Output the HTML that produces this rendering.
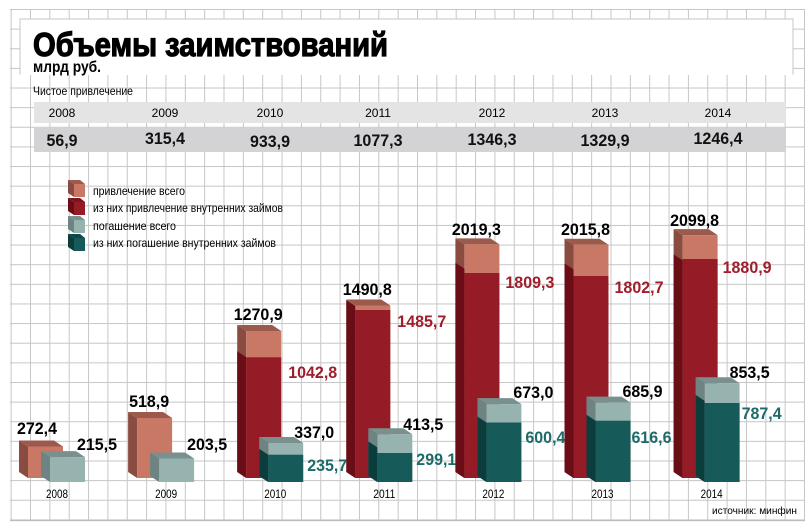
<!DOCTYPE html>
<html><head><meta charset="utf-8"><style>
html,body{margin:0;padding:0;background:#fff;}
svg{display:block;}
text{font-family:"Liberation Sans","DejaVu Sans",sans-serif;}
</style></head><body>
<svg width="810" height="528" viewBox="0 0 810 528" xmlns="http://www.w3.org/2000/svg">
<defs>
<pattern id="gv" x="10.65" y="0" width="19.35" height="528" patternUnits="userSpaceOnUse"><rect x="0" y="0" width="1" height="528" fill="#c6c6c6"/></pattern>
<pattern id="gh" x="0" y="9" width="810" height="19.63" patternUnits="userSpaceOnUse"><rect x="0" y="0" width="810" height="1" fill="#c6c6c6"/></pattern>
</defs>
<rect x="10" y="9" width="795" height="512" fill="url(#gv)"/>
<rect x="10" y="9" width="795" height="512" fill="url(#gh)"/>
<rect x="10" y="520" width="795" height="1.2" fill="#bdbdbd"/>
<!-- title box -->
<rect x="20" y="19" width="773" height="55" fill="#fff" stroke="#c6c6c6" stroke-width="1"/>
<rect x="20.5" y="73" width="772" height="2" fill="#fff"/>
<text x="33" y="56" font-size="33" font-weight="bold" stroke="#000" stroke-width="1.2" textLength="355" lengthAdjust="spacingAndGlyphs">Объемы заимствований</text>
<text x="33" y="72" font-size="16" font-weight="bold" textLength="68" lengthAdjust="spacingAndGlyphs">млрд руб.</text>
<text x="33" y="95" font-size="12" textLength="100" lengthAdjust="spacingAndGlyphs">Чистое привлечение</text>
<!-- table -->
<rect x="34" y="102" width="752" height="21" fill="#e4e4e4"/>
<rect x="34" y="128" width="752" height="24" fill="#d3d3d5"/>
<g font-size="12" text-anchor="middle">
<text x="62" y="117">2008</text><text x="165" y="117">2009</text><text x="270" y="117">2010</text><text x="378" y="117">2011</text><text x="492" y="117">2012</text><text x="605" y="117">2013</text><text x="718" y="117">2014</text>
</g>
<g font-size="17" font-weight="bold" text-anchor="middle" fill="#111">
<text x="62" y="146" textLength="31" lengthAdjust="spacingAndGlyphs">56,9</text>
<text x="165" y="144" textLength="40" lengthAdjust="spacingAndGlyphs">315,4</text>
<text x="270" y="147" textLength="40" lengthAdjust="spacingAndGlyphs">933,9</text>
<text x="378" y="146" textLength="49" lengthAdjust="spacingAndGlyphs">1077,3</text>
<text x="492" y="145" textLength="49" lengthAdjust="spacingAndGlyphs">1346,3</text>
<text x="605" y="146" textLength="49" lengthAdjust="spacingAndGlyphs">1329,9</text>
<text x="718" y="144" textLength="49" lengthAdjust="spacingAndGlyphs">1246,4</text>
</g>
<!-- legend -->
<g>
<polygon points="68,180 74,184 74,197 68,193" fill="#8a4b40"/><rect x="74" y="184" width="11" height="13" fill="#c97866"/><polygon points="68,180 80,180 85,184 74,184" fill="#9b5a4c"/>
<polygon points="68,198 74,202 74,215 68,211" fill="#6b0d16"/><rect x="74" y="202" width="11" height="13" fill="#951c27"/><polygon points="68,198 80,198 85,202 74,202" fill="#7a1520"/>
<polygon points="68,216 74,220 74,233 68,229" fill="#6d8482"/><rect x="74" y="220" width="11" height="13" fill="#97b3b0"/><polygon points="68,216 80,216 85,220 74,220" fill="#7a908e"/>
<polygon points="68,234 74,238 74,251 68,247" fill="#0b3d3d"/><rect x="74" y="238" width="11" height="13" fill="#165a5a"/><polygon points="68,234 80,234 85,238 74,238" fill="#0f4747"/>
</g>
<g font-size="12">
<text x="93" y="195" textLength="92" lengthAdjust="spacingAndGlyphs">привлечение всего</text>
<text x="93" y="212" textLength="190" lengthAdjust="spacingAndGlyphs">из них привлечение внутренних займов</text>
<text x="93" y="230" textLength="83" lengthAdjust="spacingAndGlyphs">погашение всего</text>
<text x="93" y="247" textLength="183" lengthAdjust="spacingAndGlyphs">из них погашение внутренних займов</text>
</g>

<!-- 2008 -->
<g transform="translate(28,0)">
<polygon points="-9,440.5 0,446.5 0,478 -9,472" fill="#8a4b40"/><polygon points="-9,440.5 26,440.5 35,446.5 0,446.5" fill="#9b5a4c"/><rect x="0" y="446.5" width="35" height="31.5" fill="#c97866"/>
<polygon points="13,451.1 22,457.1 22,482 13,476" fill="#6d8482"/><polygon points="13,451.1 48,451.1 57,457.1 22,457.1" fill="#7a908e"/><rect x="22" y="457.1" width="35" height="24.9" fill="#97b3b0"/>
<text x="9" y="434" font-size="17" font-weight="bold" text-anchor="middle" textLength="40" lengthAdjust="spacingAndGlyphs">272,4</text>
<text x="49" y="450" font-size="17" font-weight="bold" textLength="40" lengthAdjust="spacingAndGlyphs">215,5</text>
<text x="29" y="498" font-size="12" text-anchor="middle" textLength="22" lengthAdjust="spacingAndGlyphs">2008</text>
</g>
<!-- 2009 -->
<g transform="translate(137.1,0)">
<polygon points="-9,412 0,418 0,478 -9,472" fill="#8a4b40"/><polygon points="-9,412 26,412 35,418 0,418" fill="#9b5a4c"/><rect x="0" y="418" width="35" height="60" fill="#c97866"/>
<polygon points="13,452.5 22,458.5 22,482 13,476" fill="#6d8482"/><polygon points="13,452.5 48,452.5 57,458.5 22,458.5" fill="#7a908e"/><rect x="22" y="458.5" width="35" height="23.5" fill="#97b3b0"/>
<text x="12" y="407" font-size="17" font-weight="bold" text-anchor="middle" textLength="40" lengthAdjust="spacingAndGlyphs">518,9</text>
<text x="50" y="450" font-size="17" font-weight="bold" textLength="40" lengthAdjust="spacingAndGlyphs">203,5</text>
<text x="29" y="498" font-size="12" text-anchor="middle" textLength="22" lengthAdjust="spacingAndGlyphs">2009</text>
</g>
<!-- 2010 -->
<g transform="translate(246.2,0)">
<polygon points="-9,325 0,331 0,478 -9,472" fill="#8a4b40"/><polygon points="-9,325 26,325 35,331 0,331" fill="#9b5a4c"/><rect x="0" y="331" width="35" height="147" fill="#c97866"/>
<polygon points="-9,351.3 0,357.3 0,478 -9,472" fill="#6b0d16"/><rect x="0" y="357.3" width="35" height="120.7" fill="#951c27"/>
<polygon points="13,437 22,443 22,482 13,476" fill="#6d8482"/><polygon points="13,437 48,437 57,443 22,443" fill="#7a908e"/><rect x="22" y="443" width="35" height="39" fill="#97b3b0"/>
<polygon points="13,448.7 22,454.7 22,482 13,476" fill="#0b3d3d"/><rect x="22" y="454.7" width="35" height="27.3" fill="#165a5a"/>
<text x="12" y="320" font-size="17" font-weight="bold" text-anchor="middle" textLength="49" lengthAdjust="spacingAndGlyphs">1270,9</text>
<text x="42" y="378" font-size="17" font-weight="bold" fill="#a01e2c" textLength="49" lengthAdjust="spacingAndGlyphs">1042,8</text>
<text x="48" y="438" font-size="17" font-weight="bold" textLength="40" lengthAdjust="spacingAndGlyphs">337,0</text>
<text x="61" y="471" font-size="17" font-weight="bold" fill="#1c6a6a" textLength="40" lengthAdjust="spacingAndGlyphs">235,7</text>
<text x="29" y="498" font-size="12" text-anchor="middle" textLength="22" lengthAdjust="spacingAndGlyphs">2010</text>
</g>
<!-- 2011 -->
<g transform="translate(355.3,0)">
<polygon points="-9,299.5 0,305.5 0,478 -9,472" fill="#8a4b40"/><polygon points="-9,299.5 26,299.5 35,305.5 0,305.5" fill="#9b5a4c"/><rect x="0" y="305.5" width="35" height="172.5" fill="#c97866"/>
<polygon points="-9,300.1 0,306.1 0,478 -9,472" fill="#6b0d16"/><rect x="0" y="310" width="35" height="168" fill="#951c27"/>
<polygon points="13,428.2 22,434.2 22,482 13,476" fill="#6d8482"/><polygon points="13,428.2 48,428.2 57,434.2 22,434.2" fill="#7a908e"/><rect x="22" y="434.2" width="35" height="47.8" fill="#97b3b0"/>
<polygon points="13,441.4 22,447.4 22,482 13,476" fill="#0b3d3d"/><rect x="22" y="453" width="35" height="29" fill="#165a5a"/>
<text x="12" y="295" font-size="17" font-weight="bold" text-anchor="middle" textLength="49" lengthAdjust="spacingAndGlyphs">1490,8</text>
<text x="42" y="327" font-size="17" font-weight="bold" fill="#a01e2c" textLength="49" lengthAdjust="spacingAndGlyphs">1485,7</text>
<text x="48" y="430" font-size="17" font-weight="bold" textLength="40" lengthAdjust="spacingAndGlyphs">413,5</text>
<text x="61" y="465" font-size="17" font-weight="bold" fill="#1c6a6a" textLength="40" lengthAdjust="spacingAndGlyphs">299,1</text>
<text x="29" y="498" font-size="12" text-anchor="middle" textLength="22" lengthAdjust="spacingAndGlyphs">2011</text>
</g>
<!-- 2012 -->
<g transform="translate(464.4,0)">
<polygon points="-9,238.4 0,244.4 0,478 -9,472" fill="#8a4b40"/><polygon points="-9,238.4 26,238.4 35,244.4 0,244.4" fill="#9b5a4c"/><rect x="0" y="244.4" width="35" height="233.6" fill="#c97866"/>
<polygon points="-9,262.7 0,268.7 0,478 -9,472" fill="#6b0d16"/><rect x="0" y="273" width="35" height="205" fill="#951c27"/>
<polygon points="13,398.1 22,404.1 22,482 13,476" fill="#6d8482"/><polygon points="13,398.1 48,398.1 57,404.1 22,404.1" fill="#7a908e"/><rect x="22" y="404.1" width="35" height="77.9" fill="#97b3b0"/>
<polygon points="13,416.5 22,422.5 22,482 13,476" fill="#0b3d3d"/><rect x="22" y="422.5" width="35" height="59.5" fill="#165a5a"/>
<text x="12" y="235" font-size="17" font-weight="bold" text-anchor="middle" textLength="49" lengthAdjust="spacingAndGlyphs">2019,3</text>
<text x="41" y="288" font-size="17" font-weight="bold" fill="#a01e2c" textLength="49" lengthAdjust="spacingAndGlyphs">1809,3</text>
<text x="49" y="398" font-size="17" font-weight="bold" textLength="40" lengthAdjust="spacingAndGlyphs">673,0</text>
<text x="61" y="443" font-size="17" font-weight="bold" fill="#1c6a6a" textLength="40" lengthAdjust="spacingAndGlyphs">600,4</text>
<text x="29" y="498" font-size="12" text-anchor="middle" textLength="22" lengthAdjust="spacingAndGlyphs">2012</text>
</g>
<!-- 2013 -->
<g transform="translate(573.5,0)">
<polygon points="-9,238.8 0,244.8 0,478 -9,472" fill="#8a4b40"/><polygon points="-9,238.8 26,238.8 35,244.8 0,244.8" fill="#9b5a4c"/><rect x="0" y="244.8" width="35" height="233.2" fill="#c97866"/>
<polygon points="-9,263.4 0,269.4 0,478 -9,472" fill="#6b0d16"/><rect x="0" y="276" width="35" height="202" fill="#951c27"/>
<polygon points="13,396.6 22,402.6 22,482 13,476" fill="#6d8482"/><polygon points="13,396.6 48,396.6 57,402.6 22,402.6" fill="#7a908e"/><rect x="22" y="402.6" width="35" height="79.4" fill="#97b3b0"/>
<polygon points="13,414.7 22,420.7 22,482 13,476" fill="#0b3d3d"/><rect x="22" y="420.7" width="35" height="61.3" fill="#165a5a"/>
<text x="12" y="235" font-size="17" font-weight="bold" text-anchor="middle" textLength="49" lengthAdjust="spacingAndGlyphs">2015,8</text>
<text x="41" y="293" font-size="17" font-weight="bold" fill="#a01e2c" textLength="49" lengthAdjust="spacingAndGlyphs">1802,7</text>
<text x="49" y="397" font-size="17" font-weight="bold" textLength="40" lengthAdjust="spacingAndGlyphs">685,9</text>
<text x="58" y="443" font-size="17" font-weight="bold" fill="#1c6a6a" textLength="40" lengthAdjust="spacingAndGlyphs">616,6</text>
<text x="29" y="498" font-size="12" text-anchor="middle" textLength="22" lengthAdjust="spacingAndGlyphs">2013</text>
</g>
<!-- 2014 -->
<g transform="translate(682.6,0)">
<polygon points="-9,229.1 0,235.1 0,478 -9,472" fill="#8a4b40"/><polygon points="-9,229.1 26,229.1 35,235.1 0,235.1" fill="#9b5a4c"/><rect x="0" y="235.1" width="35" height="242.9" fill="#c97866"/>
<polygon points="-9,254.4 0,260.4 0,478 -9,472" fill="#6b0d16"/><rect x="0" y="259" width="35" height="219" fill="#951c27"/>
<polygon points="13,377.2 22,383.2 22,482 13,476" fill="#6d8482"/><polygon points="13,377.2 48,377.2 57,383.2 22,383.2" fill="#7a908e"/><rect x="22" y="383.2" width="35" height="98.8" fill="#97b3b0"/>
<polygon points="13,394.9 22,400.9 22,482 13,476" fill="#0b3d3d"/><rect x="22" y="403" width="35" height="79" fill="#165a5a"/>
<text x="12" y="226" font-size="17" font-weight="bold" text-anchor="middle" textLength="49" lengthAdjust="spacingAndGlyphs">2099,8</text>
<text x="40" y="273" font-size="17" font-weight="bold" fill="#a01e2c" textLength="49" lengthAdjust="spacingAndGlyphs">1880,9</text>
<text x="47" y="378" font-size="17" font-weight="bold" textLength="40" lengthAdjust="spacingAndGlyphs">853,5</text>
<text x="59" y="419" font-size="17" font-weight="bold" fill="#1c6a6a" textLength="40" lengthAdjust="spacingAndGlyphs">787,4</text>
<text x="29" y="498" font-size="12" text-anchor="middle" textLength="22" lengthAdjust="spacingAndGlyphs">2014</text>
</g>
<text x="712" y="514" font-size="10" textLength="85" lengthAdjust="spacingAndGlyphs">источник: минфин</text>
</svg>
</body></html>
